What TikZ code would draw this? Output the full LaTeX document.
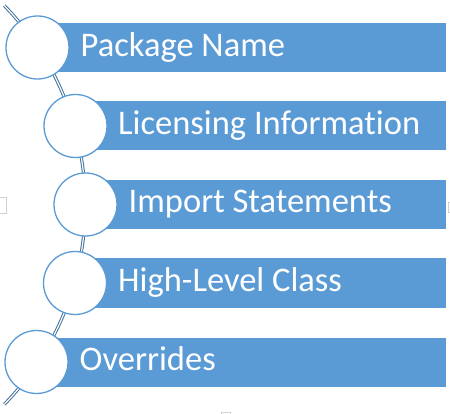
\documentclass[tikz,border=0pt]{standalone}
\usepackage{fontspec}
\setmainfont{Carlito}[Ligatures=NoCommon]
\definecolor{barblue}{HTML}{5B9BD5}
\definecolor{lineblue}{HTML}{41719C}
\begin{document}
\begin{tikzpicture}[x=1pt,y=-1pt,
  bar/.style={fill=barblue, draw=none, minimum height=49pt, inner sep=0pt, outer sep=0pt, anchor=west},
  ring/.style={circle, draw=barblue, fill=white, line width=1.3pt, minimum size=63pt, inner sep=0pt},
  lbl/.style={text=white, font=\fontsize{34.5}{40}\selectfont, anchor=base west, inner sep=0pt},
  conn/.style={draw=lineblue, line width=1pt, double=white, double distance=1.2pt},
  handle/.style={draw=black!18, fill=white, line width=0.7pt}]
\useasboundingbox (0,0) rectangle (450,414);
\clip (0,0) rectangle (450,414);
% selection handles
\draw[handle] (-3,197) rectangle (6.5,213);
\draw[handle] (448,202) rectangle (456,212);
\draw[handle] (221,412) rectangle (230.5,420);
% connector arc
\coordinate (top) at (4.3,5.6);
\coordinate (arcc) at (-200.7,205);
\draw[conn] (top) arc[start angle=-44.2, end angle=44.2, radius=286] coordinate (bot);
% bars
\node[bar, minimum width=408.5pt] (b1) at (37.5,47.5) {};
\node[bar, minimum width=370.5pt] (b2) at (75.5,126) {};
\node[bar, minimum width=360.5pt] (b3) at (85.5,204.5) {};
\node[bar, minimum width=371pt]   (b4) at (75,283) {};
\node[bar, minimum width=409.5pt] (b5) at (36.5,362) {};
% circles
\node[ring] (c1) at (37.5,47.5) {};
\node[ring] (c2) at (75.5,126) {};
\node[ring] (c3) at (85.5,204.5) {};
\node[ring] (c4) at (75,283) {};
\node[ring] (c5) at (36.5,362) {};
% labels
\node[lbl] (t1) at (80.5,56.5) {Package Name};
\node[lbl] (t2) at (118,134.5) {Licensing Informat\kern0pt ion};
\node[lbl] (t3) at (128.5,213) {Import Statements};
\node[lbl] (t4) at (118,291.5) {High-Level Class};
\node[lbl] (t5) at (79.5,370.5) {Overrides};
\end{tikzpicture}
\end{document}
